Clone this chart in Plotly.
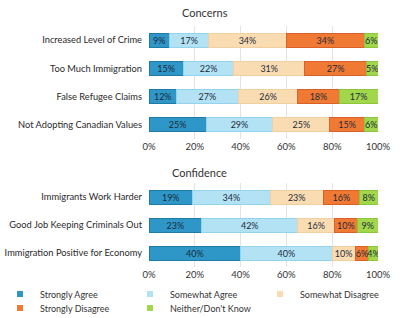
import plotly.graph_objects as go

series = ["Strongly Agree", "Somewhat Agree", "Somewhat Disagree", "Strongly Disagree", "Neither/Don't Know"]
colors = ["#2e97c8", "#b3e2f4", "#f9dcb2", "#f07a33", "#a2d74c"]
edges = ["#1f7aa6", "#94d3ec", "#f0cfa0", "#d9622a", "#8cc63c"]

concern_cats = ["Increased Level of Crime", "Too Much Immigration", "False Refugee Claims", "Not Adopting Canadian Values"]
concern_vals = [
    [9, 15, 12, 25],
    [17, 22, 27, 29],
    [34, 31, 26, 25],
    [34, 27, 18, 15],
    [6, 5, 17, 6],
]

conf_cats = ["Immigrants Work Harder", "Good Job Keeping Criminals Out", "Immigration Positive for Economy"]
conf_vals = [
    [19, 23, 40],
    [34, 42, 40],
    [23, 16, 10],
    [16, 10, 6],
    [8, 9, 4],
]

tickvals = [0, 20, 40, 60, 80, 100]
ticktext = ["0%", "20%", "40%", "60%", "80%", "100%"]

FONT = "Lato, 'Open Sans', sans-serif"
fig = go.Figure()

for i, name in enumerate(series):
    fig.add_trace(go.Bar(
        y=concern_cats, x=concern_vals[i], orientation="h", name=name,
        marker=dict(color=colors[i], line=dict(color=edges[i], width=1)),
        text=[f"{v}%" for v in concern_vals[i]], textposition="inside",
        insidetextanchor="middle", textangle=0,
        textfont=dict(color="#1c2b3a", size=9, family=FONT),
        xaxis="x", yaxis="y", width=0.5, showlegend=False,
    ))
for i, name in enumerate(series):
    fig.add_trace(go.Bar(
        y=conf_cats, x=conf_vals[i], orientation="h", name=name,
        marker=dict(color=colors[i], line=dict(color=edges[i], width=1)),
        text=[f"{v}%" for v in conf_vals[i]], textposition="inside",
        insidetextanchor="middle", textangle=0,
        textfont=dict(color="#1c2b3a", size=9, family=FONT),
        xaxis="x2", yaxis="y2", width=0.5, showlegend=False,
    ))

# legend entries (small square swatches), split into two rows
for i, name in enumerate(series):
    fig.add_trace(go.Scatter(
        x=[None], y=[None], mode="markers", name=name,
        marker=dict(symbol="square", size=6, color=colors[i]),
        xaxis="x2", yaxis="y2", showlegend=True,
        legend="legend" if i < 3 else "legend2",
    ))

xd = [149/405, 378/405]
axx = dict(range=[0, 100], tickvals=tickvals, ticktext=ticktext, showgrid=True,
           gridcolor="#e3e3e3", gridwidth=1, zeroline=False, showline=False,
           tickfont=dict(size=9.5, color="#333", family=FONT), ticks="", domain=xd,
           automargin=False)
axy = dict(autorange="reversed", showgrid=False, zeroline=False, ticks="",
           tickfont=dict(size=9.3, color="#2a2a2a", family=FONT), ticklabelstandoff=6,
           automargin=False)

legfont = dict(size=9, color="#333", family=FONT)
leg = dict(orientation="h", x=0.0, xanchor="left", yanchor="middle",
           entrywidth=85, itemwidth=30, tracegroupgap=0, traceorder="normal",
           font=legfont, bgcolor="rgba(0,0,0,0)")
fig.update_layout(
    width=405, height=318, barmode="stack", bargap=0.5,
    margin=dict(l=0, r=0, t=0, b=0, autoexpand=False),
    paper_bgcolor="white", plot_bgcolor="white",
    xaxis=dict(axx, anchor="y"),
    yaxis=dict(axy, domain=[179/318, 292/318], anchor="x"),
    xaxis2=dict(axx, anchor="y2"),
    yaxis2=dict(axy, domain=[51/318, 135/318], anchor="x2"),
    uniformtext=dict(minsize=9, mode="show"),
    legend=dict(leg, y=1 - 294/318),
    legend2=dict(leg, y=1 - 308/318),
    annotations=[
        dict(text="Concerns", x=205/405, y=1 - 13/318, xref="paper", yref="paper",
             xanchor="center", yanchor="middle",
             showarrow=False, font=dict(size=11, color="#333", family=FONT)),
        dict(text="Confidence", x=199/405, y=1 - 172/318, xref="paper", yref="paper",
             xanchor="center", yanchor="middle",
             showarrow=False, font=dict(size=11, color="#333", family=FONT)),
    ],
)

fig.write_html("out.html")
